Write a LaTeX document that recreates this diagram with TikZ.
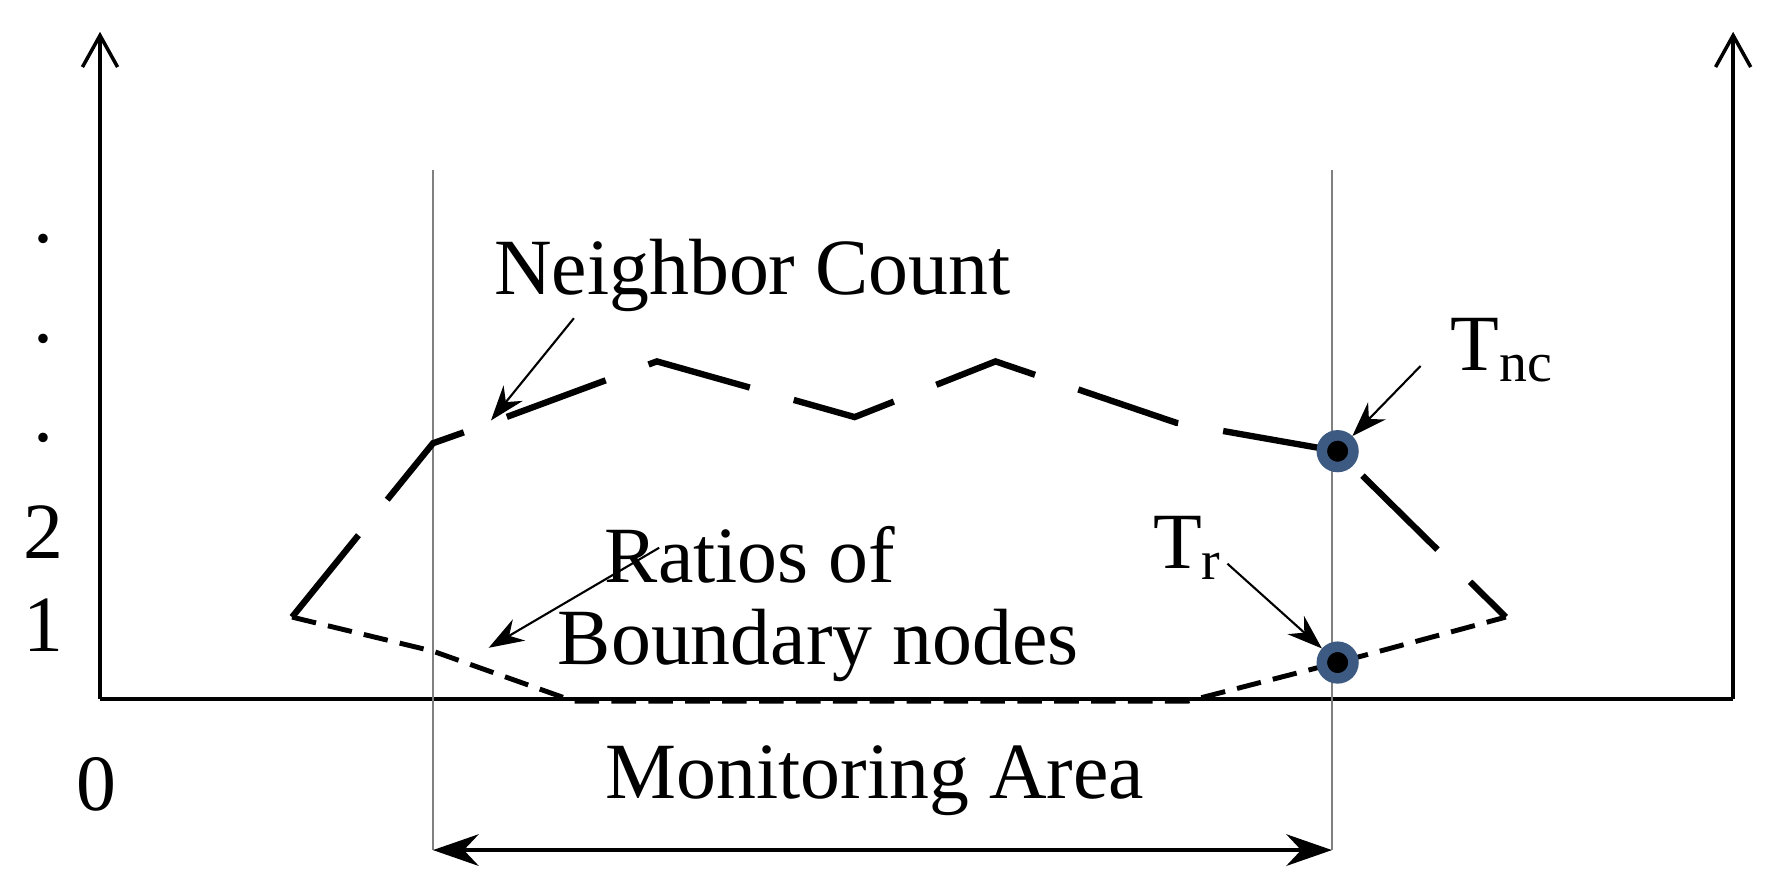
\documentclass[tikz,border=0pt]{standalone}
\usepackage{fontspec}
\setmainfont{Liberation Serif}
\usetikzlibrary{arrows.meta}
\begin{document}
\begin{tikzpicture}[x=0.011364cm,y=-0.011364cm,
  lbl/.style={font=\fontsize{22.7}{25}\selectfont,inner sep=0pt},
  ax/.style={line width=1pt,-{Straight Barb[length=9pt,width=10pt]}},
  ptr/.style={line width=0.6pt,-{Stealth[length=10pt,width=7pt]}},
  dot/.style={circle,fill=black,draw={rgb,255:red,60;green,90;blue,130},line width=3pt,minimum size=9pt,inner sep=0pt},
  guide/.style={line width=0.35pt,gray}]
\useasboundingbox (0,0) rectangle (1568,772);
\coordinate (o) at (88,615); \coordinate (ltop) at (88,28);
\coordinate (r) at (1525,615); \coordinate (rtop) at (1525,28);
\draw[ax] (o) -- (ltop);
\draw[ax] (r) -- (rtop);
\draw[line width=1pt] (o) -- (r);
\coordinate (g1a) at (381,150); \coordinate (g1b) at (381,748);
\coordinate (g2a) at (1172,150); \coordinate (g2b) at (1172,748);
\draw[guide] (g1a) -- (g1b); \draw[guide] (g2a) -- (g2b);
\draw[line width=1.8pt,dash pattern=on 30pt off 13pt] (257,543) -- (381,390) -- (432,372) -- (578,318) -- (752,367) -- (876,318) -- (1035,372) -- (1177,397) -- (1325,543);
\draw[line width=1.4pt,dash pattern=on 7pt off 3.5pt] (257,543) -- (381,573) -- (505,617) -- (1045,617) -- (1177,583) -- (1325,543);
\node[dot] (tnc) at (1177,397) {};
\node[dot] (tr) at (1177,583) {};
\node[lbl] (nc) at (662,242) {Neighbor Count};
\node[lbl] (rat) at (660,488) {Ratios of};
\node[lbl] (bn) at (720,568) {Boundary nodes};
\node[lbl] (tnclbl) at (1322,308) {T\textsubscript{nc}};
\node[lbl] (trlbl) at (1045,482) {T\textsubscript{r}};
\node[lbl] (ma) at (770,687) {Monitoring Area};
\node[lbl] at (85,690) {0};
\node[lbl] at (38,550) {1};
\node[lbl] at (38,468) {2};
\node[lbl] at (38,210) {.};\node[lbl] at (38,298) {.};\node[lbl] at (38,385) {.};
\coordinate (a1) at (505,280); \coordinate (a1e) at (432,370);
\draw[ptr] (a1) -- (a1e);
\coordinate (a2) at (580,482); \coordinate (a2e) at (430,570);
\draw[ptr] (a2) -- (a2e);
\coordinate (a3) at (1250,322);
\draw[ptr] (a3) -- (tnc);
\coordinate (a4) at (1080,496);
\draw[ptr] (a4) -- (tr);
\coordinate (m1) at (381,748); \coordinate (m2) at (1172,748);
\draw[line width=1pt,{Stealth[length=13pt,width=9pt]}-{Stealth[length=13pt,width=9pt]}] (m1) -- (m2);
\end{tikzpicture}
\end{document}
